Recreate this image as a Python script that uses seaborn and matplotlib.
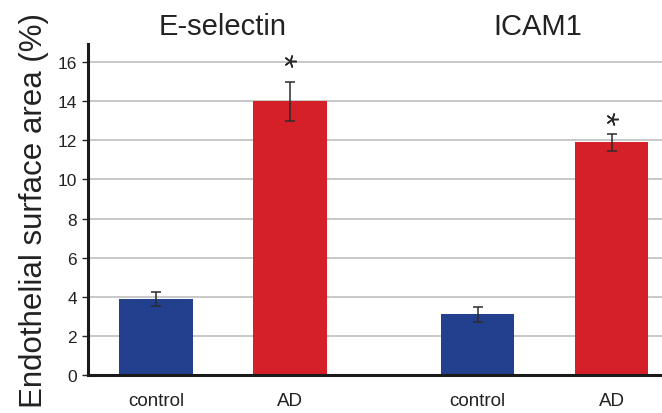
import seaborn as sns
import matplotlib.pyplot as plt
import pandas as pd
import numpy as np

sns.set_style("white")
plt.rcParams['font.family'] = ['Liberation Sans', 'DejaVu Sans']

# data
markers = ["E-selectin", "ICAM1"]
groups = ["control", "AD", "control", "AD"]
positions = [0.0, 1.0, 2.4, 3.4]
values = [3.9, 14.0, 3.1, 11.9]
errors = [0.35, 1.0, 0.38, 0.43]
star_y = [None, 16.05, None, 13.1]

df = pd.DataFrame({"pos": positions, "value": values, "group": groups})
palette = {"control": "#23408e", "AD": "#d5202a"}

fig = plt.figure(figsize=(6.62, 4.14), dpi=100)
ax = fig.add_axes([0.133, 0.092, 0.867, 0.799])

sns.barplot(data=df, x="pos", y="value", hue="group", palette=palette,
            native_scale=True, dodge=False, width=0.55, errorbar=None,
            legend=False, linewidth=0, saturation=1, ax=ax)

ax.errorbar(positions, values, yerr=errors, fmt="none", ecolor="#2b2b2b",
            elinewidth=1.1, capsize=3.5, capthick=1.1)

for x, s in zip(positions, star_y):
    if s is not None:
        ax.plot(x, s, marker=(5, 2, -90), markersize=9, color="#2b2b2b",
                markeredgewidth=1.1)

# group titles
for i, name in enumerate(markers):
    cx = (positions[2 * i] + positions[2 * i + 1]) / 2
    ax.text(cx - 0.05 * i, 1.03, name, transform=ax.get_xaxis_transform(),
            ha="center", va="baseline", fontsize=21, color="#222222")

ax.set_xlim(-0.507, 3.776)
ax.set_ylim(0, 16.92)
ax.set_yticks(range(0, 17, 2))
ax.set_xticks(positions)
ax.set_xticklabels(groups, fontsize=13.5, color="#222222")
ax.tick_params(axis="x", length=0, pad=12)
ax.tick_params(axis="y", length=4, width=1, labelsize=12.5, labelcolor="#222222",
               left=True, direction="out", pad=4)
ax.set_xlabel("")
ax.set_ylabel("Endothelial surface area (%)", fontsize=22.5, color="#222222",
              labelpad=6)

ax.yaxis.grid(True, color="#c8c8c8", linewidth=1.4)
ax.set_axisbelow(True)
for side in ["top", "right"]:
    ax.spines[side].set_visible(False)
ax.spines["left"].set_linewidth(2.2)
ax.spines["bottom"].set_linewidth(2.2)
ax.spines["left"].set_color("#1a1a1a")
ax.spines["bottom"].set_color("#1a1a1a")

fig.savefig("out.png", dpi=100)
plt.close(fig)
